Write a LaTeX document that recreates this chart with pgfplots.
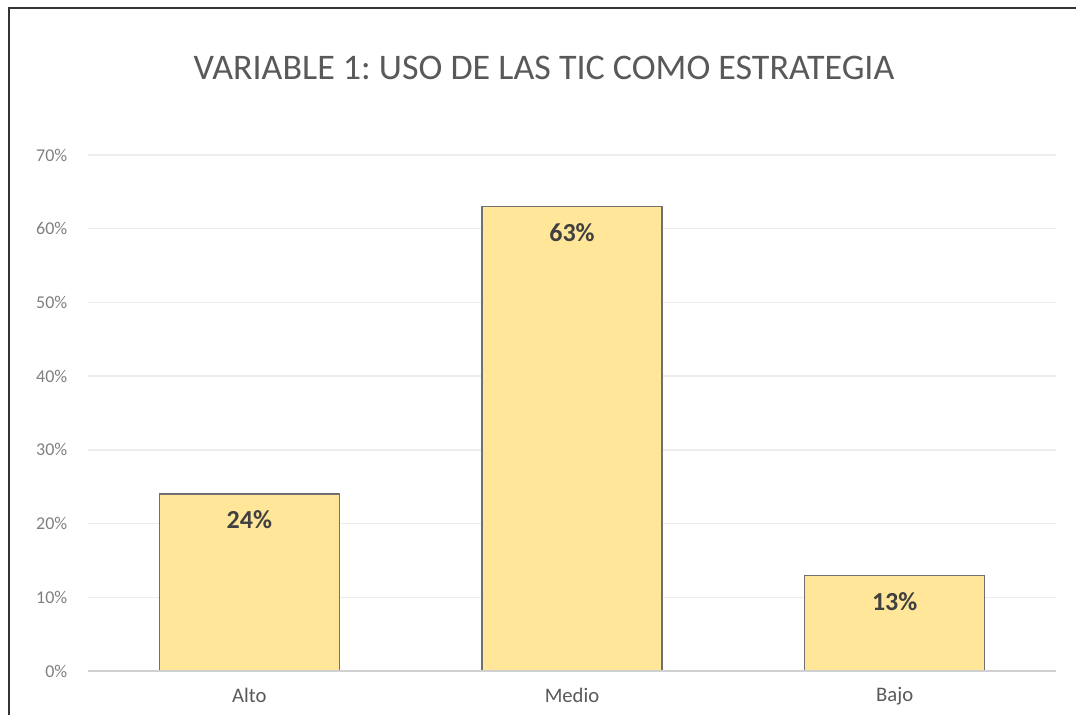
\documentclass[border=0pt]{standalone}
\usepackage{pgfplots}
\pgfplotsset{compat=1.18}
\usepackage{fontspec}
\setmainfont{Carlito}
\frenchspacing
\definecolor{barfill}{HTML}{FFE699}
\definecolor{baredge}{HTML}{707070}
\definecolor{txtgray}{HTML}{595959}
\definecolor{ticgray}{HTML}{7F7F7F}
\definecolor{lblgray}{HTML}{404040}
\definecolor{gridgray}{HTML}{EDEDED}
\definecolor{axgray}{HTML}{D0D0D0}
\begin{document}
\begin{tikzpicture}
\path[use as bounding box] (0,0) rectangle (807pt,536.25pt);
\draw[line width=1.5pt, color=black!80] (6.75pt,0pt) -- (6.75pt,530.25pt) -- (807pt,530.25pt);
\node[text=txtgray, font=\fontsize{27}{32}\selectfont] at (408pt,485.25pt) {VARIABLE 1: USO DE LAS TIC COMO ESTRATEGIA};
\begin{axis}[
  at={(66pt,33pt)}, anchor=south west,
  scale only axis,
  width=726pt, height=387pt,
  xmin=-0.5, xmax=2.5,
  ymin=0, ymax=70,
  xtick={0,1,2},
  xticklabels={Alto,Medio,Bajo},
  ytick={0,10,...,70},
  yticklabel={\pgfmathprintnumber{\tick}\%},
  /pgf/number format/assume math mode=true,
  ymajorgrids,
  grid style={gridgray, line width=1pt},
  axis line style={draw=none},
  axis x line*=bottom,
  axis y line*=left,
  major tick length=0pt,
  tick style={draw=none},
  yticklabel style={text=ticgray, font=\fontsize{13.5}{15}\selectfont, xshift=-12pt},
  xticklabel style={text=txtgray, font=\fontsize{15.5}{17}\selectfont, yshift=-9pt},
  clip=false,
]
\addplot[ybar, bar width=0.557, fill=barfill, draw=baredge, line width=1pt,
  nodes near coords={\pgfmathprintnumber{\pgfplotspointmeta}\%},
  nodes near coords style={anchor=center, yshift=-19.5pt, text=lblgray, font=\bfseries\fontsize{19.5}{22}\selectfont},
] coordinates {(0,24) (1,63) (2,13)};
\draw[axgray, line width=1.5pt] (axis cs:-0.5,0) -- (axis cs:2.5,0);
\end{axis}
\end{tikzpicture}
\end{document}
